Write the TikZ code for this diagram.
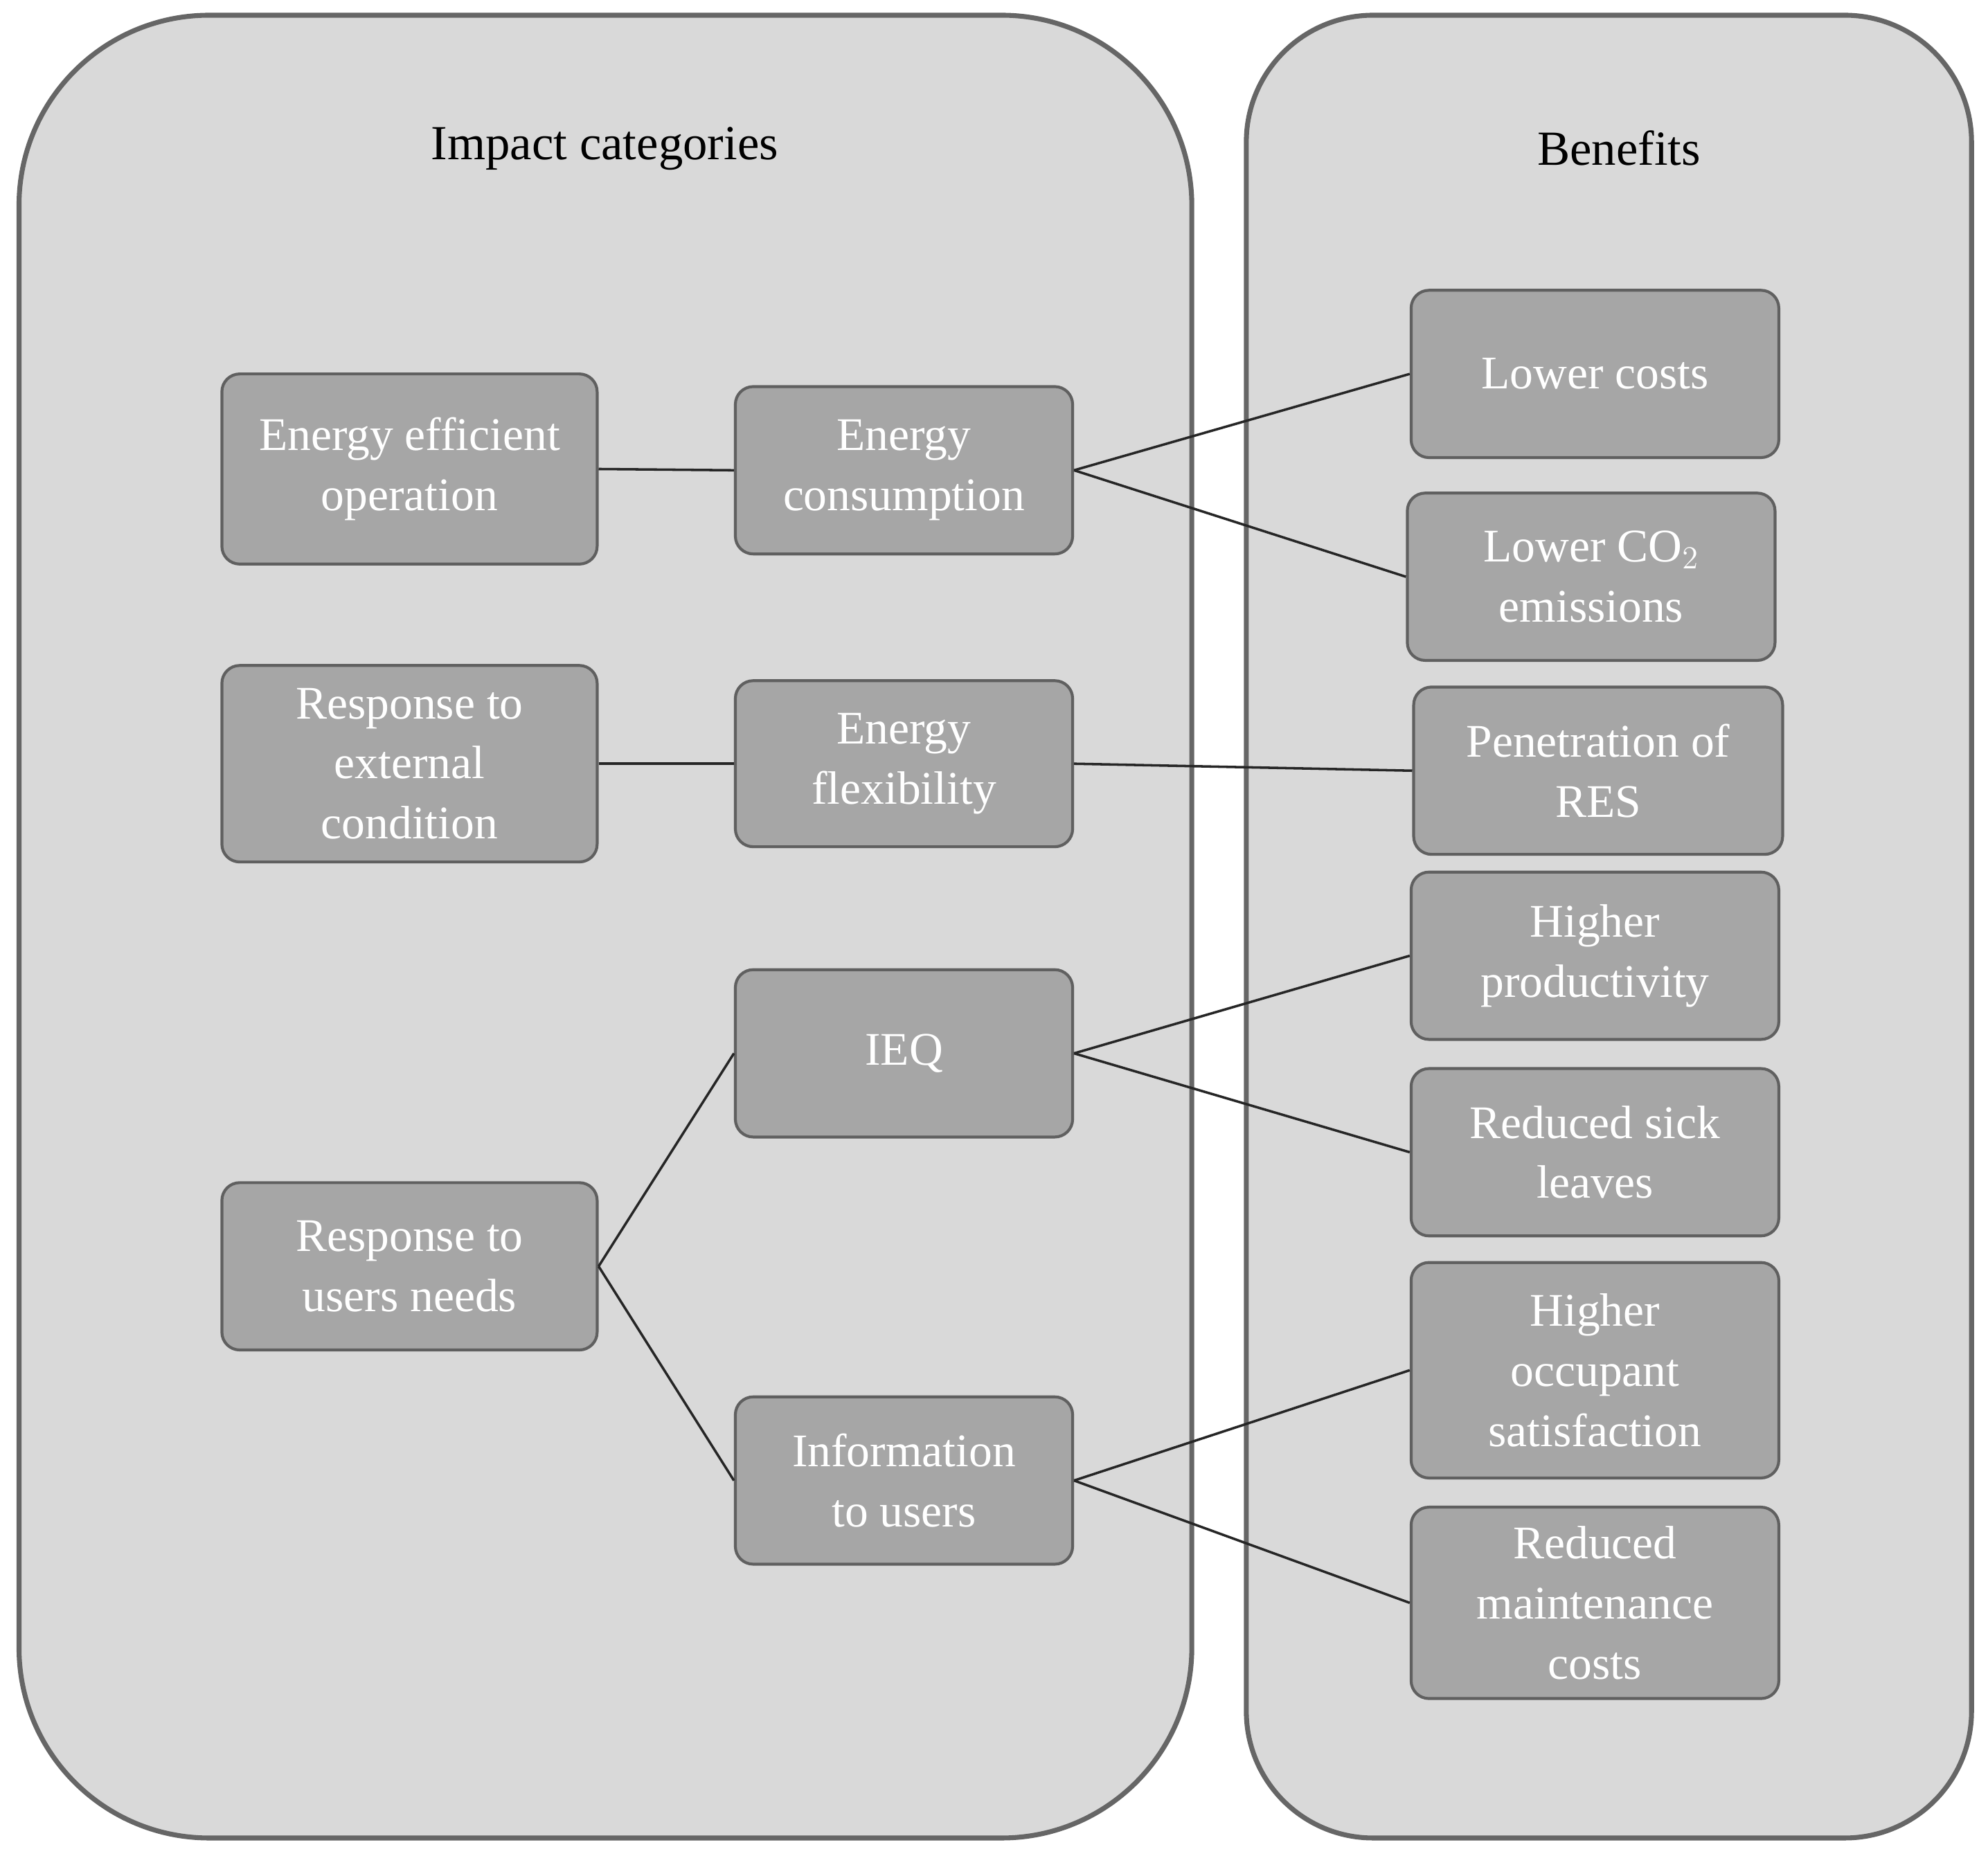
\documentclass[tikz,border=0pt]{standalone}
\usepackage{fontspec}
\setmainfont{Liberation Serif}
\begin{document}
\begin{tikzpicture}[x=0.02cm,y=-0.02cm,
  panel/.style={draw=gray!80!black,line width=2.2pt,fill=gray!30},
  bx/.style={draw=gray!75!black,line width=1.3pt,fill=gray!70,rounded corners=8pt,
    text=white,align=center,font=\fontsize{21}{27}\selectfont,inner sep=0pt},
  lk/.style={line width=1.1pt,black!85}]
\useasboundingbox (0,0) rectangle (1568,1464);
\fill[white] (0,0) rectangle (1568,1464);
\draw[panel,rounded corners=3cm] (15,12) rectangle (940,1450);
\draw[panel,rounded corners=2cm] (983,12) rectangle (1555,1450);
\node[font=\fontsize{22}{27}\selectfont] (t1) at (477,117) {Impact categories};
\node[font=\fontsize{22}{27}\selectfont] (t2) at (1277,117) {Benefits};
\newcommand{\bxat}[6]{\node[bx,minimum width={(#4-#2)*0.02cm},minimum height={(#5-#3)*0.02cm}] (#1) at ({(#2+#4)/2},{(#3+#5)/2}) {#6};}
\bxat{eeo}{175}{295}{471}{445}{Energy efficient\\operation}
\bxat{ec}{580}{305}{846}{437}{Energy\\consumption}
\bxat{rec}{175}{525}{471}{680}{Response to\\external\\condition}
\bxat{ef}{580}{537}{846}{668}{Energy\\flexibility}
\bxat{run}{175}{933}{471}{1065}{Response to\\users needs}
\bxat{ieq}{580}{765}{846}{897}{IEQ}
\bxat{iu}{580}{1102}{846}{1234}{Information\\to users}
\bxat{lc}{1113}{229}{1403}{361}{Lower costs}
\bxat{lco}{1110}{389}{1400}{521}{Lower CO$_2$\\emissions}
\bxat{pr}{1115}{542}{1406}{674}{Penetration of\\RES}
\bxat{hp}{1113}{688}{1403}{820}{Higher\\productivity}
\bxat{rsl}{1113}{843}{1403}{975}{Reduced sick\\leaves}
\bxat{hos}{1113}{996}{1403}{1166}{Higher\\occupant\\satisfaction}
\bxat{rmc}{1113}{1189}{1403}{1340}{Reduced\\maintenance\\costs}
\draw[lk] (eeo.east) -- (ec.west);
\draw[lk] (rec.east) -- (ef.west);
\draw[lk] (run.east) -- (ieq.west);
\draw[lk] (run.east) -- (iu.west);
\draw[lk] (ec.east) -- (lc.west);
\draw[lk] (ec.east) -- (lco.west);
\draw[lk] (ef.east) -- (pr.west);
\draw[lk] (ieq.east) -- (hp.west);
\draw[lk] (ieq.east) -- (rsl.west);
\draw[lk] (iu.east) -- (hos.west);
\draw[lk] (iu.east) -- (rmc.west);
\end{tikzpicture}
\end{document}
